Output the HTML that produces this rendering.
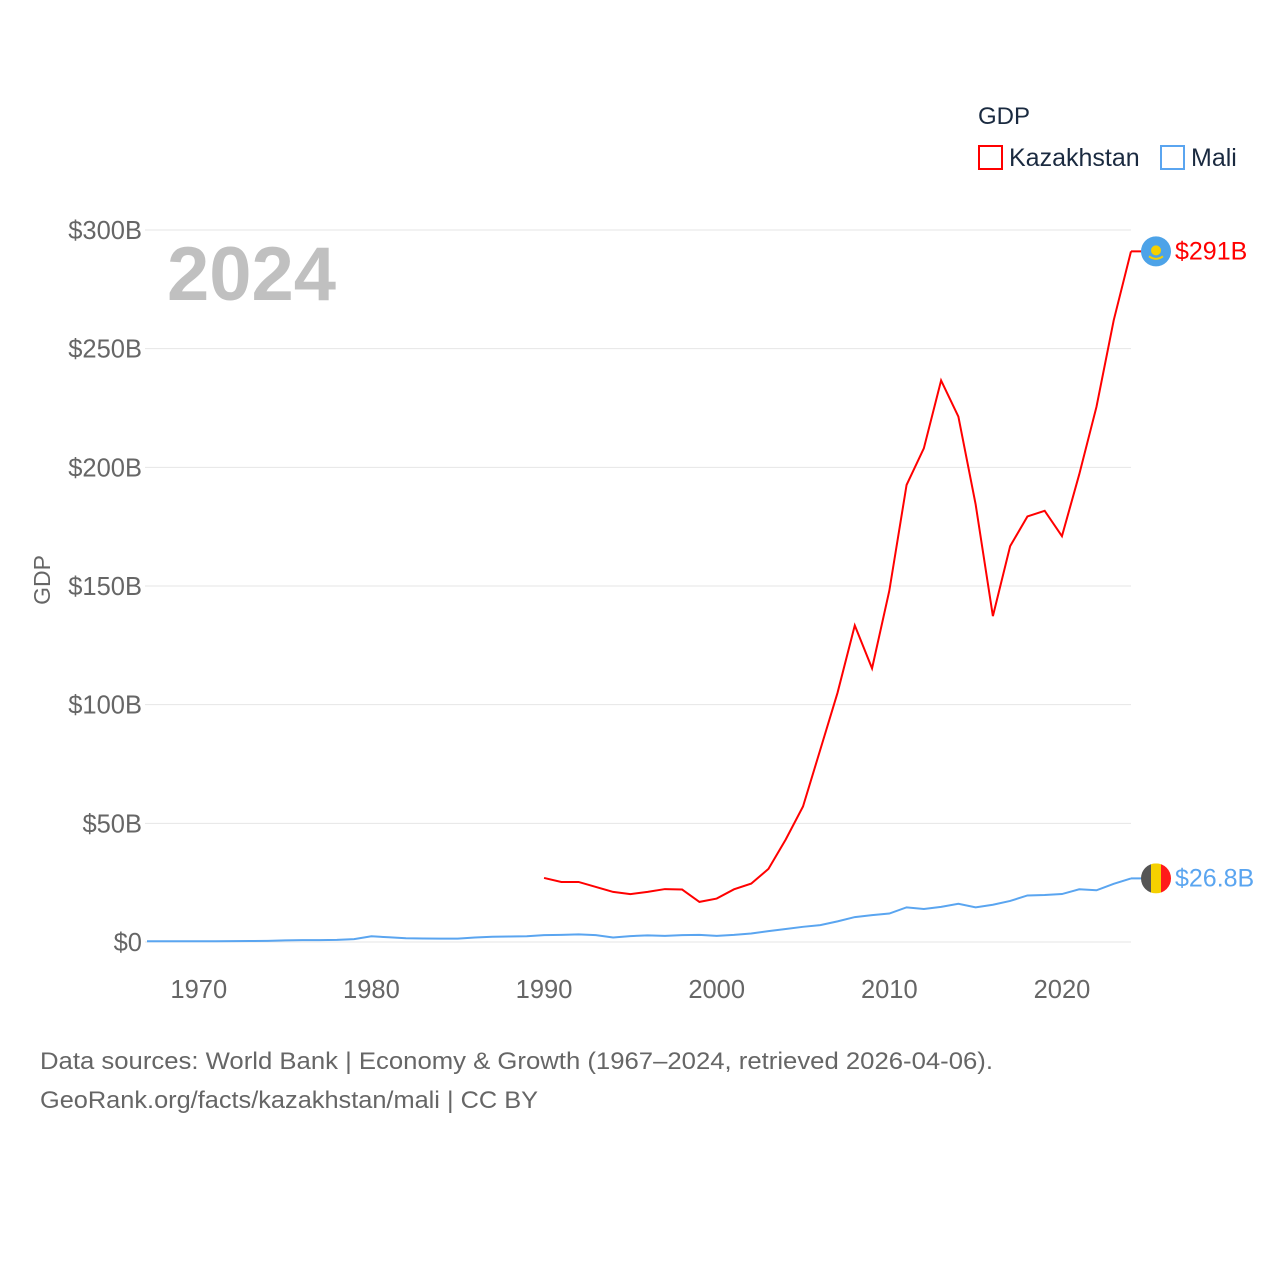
<!DOCTYPE html>
<html><head><meta charset="utf-8"><style>
body{margin:0;background:#fff;font-family:"Liberation Sans",sans-serif;}
svg text{font-family:"Liberation Sans",sans-serif;}
</style></head><body>
<svg id="chart" width="1280" height="1280" xmlns="http://www.w3.org/2000/svg">
<rect width="1280" height="1280" fill="#fff"/>
<g id="grid"></g><g id="yticks"></g><g id="xticks"></g>
<text x="167" y="300" font-size="76" font-weight="bold" fill="#c0c0c0">2024</text>
<text transform="translate(50,580) rotate(-90)" text-anchor="middle" font-size="23" fill="#666">GDP</text>
<g id="series"></g>
<g>
<text x="978" y="124" font-size="24" fill="#1a2a40">GDP</text>
<rect x="979" y="146" width="23" height="23" fill="none" stroke="#ff0000" stroke-width="2"/>
<text x="1009" y="166" font-size="25" fill="#1a2a40">Kazakhstan</text>
<rect x="1161" y="146" width="23" height="23" fill="none" stroke="#5aa5f0" stroke-width="2"/>
<text x="1191" y="166" font-size="25" fill="#1a2a40">Mali</text>
</g>
<text x="40" y="1069" font-size="24" fill="#666" textLength="953" lengthAdjust="spacingAndGlyphs">Data sources: World Bank | Economy &amp; Growth (1967–2024, retrieved 2026-04-06).</text>
<text x="40" y="1108" font-size="24" fill="#666" textLength="498" lengthAdjust="spacingAndGlyphs">GeoRank.org/facts/kazakhstan/mali | CC BY</text>
</svg>
<script>
const yTicks=[0,50,100,150,200,250,300];
const yTickLabels=["$0","$50B","$100B","$150B","$200B","$250B","$300B"];
const xTicks=[1970,1980,1990,2000,2010,2020];
const kazYears=[1990,1991,1992,1993,1994,1995,1996,1997,1998,1999,2000,2001,2002,2003,2004,2005,2006,2007,2008,2009,2010,2011,2012,2013,2014,2015,2016,2017,2018,2019,2020,2021,2022,2023,2024];
const kazValues=[27,25.3,25.3,23.2,21.1,20.2,21.1,22.3,22.1,16.9,18.3,22.2,24.6,30.8,43.2,57.1,81,105,133.4,115.3,148,192.6,208,236.6,221.4,184.4,137.3,166.8,179.3,181.7,171,197,225.5,262,291];
const maliYears=[];for(let y=1967;y<=2024;y++)maliYears.push(y);
const maliValues=[0.3,0.3,0.3,0.3,0.3,0.35,0.4,0.5,0.7,0.8,0.8,0.9,1.2,2.4,2.0,1.6,1.5,1.4,1.4,1.9,2.2,2.3,2.4,2.9,3.0,3.2,2.9,1.9,2.5,2.8,2.6,2.9,3.0,2.6,3.0,3.6,4.6,5.5,6.4,7.1,8.7,10.5,11.3,12.0,14.6,13.9,14.8,16.1,14.6,15.7,17.3,19.6,19.8,20.2,22.2,21.8,24.5,26.8];
const NS="http://www.w3.org/2000/svg";
const X=y=>147+(y-1967)*(1131-147)/(2024-1967);
const Y=v=>942-v*(942-230)/300;
function mk(t,a,p){const e=document.createElementNS(NS,t);for(const k in a)e.setAttribute(k,a[k]);p.appendChild(e);return e;}
const grid=document.getElementById('grid'),yt=document.getElementById('yticks'),xt=document.getElementById('xticks'),ser=document.getElementById('series');
yTicks.forEach((v,i)=>{
 const l=mk('line',{x1:145,x2:1131,y1:Y(v),y2:Y(v),stroke:'#e6e6e6','stroke-width':1},grid);
 
 
 const t=mk('text',{x:142,y:Y(v)+9,'text-anchor':'end','font-size':25.5,fill:'#666'},yt);
 t.textContent=yTickLabels[i];
 
 
});
xTicks.forEach(v=>{
 const t=mk('text',{x:X(v),y:998,'text-anchor':'middle','font-size':25.5,fill:'#666'},xt);
 t.textContent=v;
 
 
});
function line(xs,vs,c,name){
 const p=mk('polyline',{points:xs.map((y,i)=>X(y)+','+Y(vs[i])).join(' '),fill:'none',stroke:c,'stroke-width':2},ser);
 
 
}
line(maliYears,maliValues,'#5aa5f0','mali-line');
line(kazYears,kazValues,'#ff0000','kazakhstan-line');
const kv=kazValues[kazValues.length-1],mv=maliValues[maliValues.length-1];
const kx=X(2024)+25,ky=Y(kv);
mk('line',{x1:X(2024),x2:kx-14,y1:ky,y2:ky,stroke:'#ff0000','stroke-width':2},ser);
mk('line',{x1:X(2024),x2:kx-14,y1:Y(mv),y2:Y(mv),stroke:'#5aa5f0','stroke-width':2},ser);
const kf=mk('g',{},ser);


mk('circle',{cx:kx,cy:ky,r:15,fill:'#4da3e8'},kf);
mk('circle',{cx:kx,cy:ky-1,r:5,fill:'#f5d000'},kf);
mk('path',{d:`M${kx-7} ${ky+5} Q${kx} ${ky+10} ${kx+7} ${ky+5}`,stroke:'#f5d000','stroke-width':2,fill:'none'},kf);
const kl=mk('text',{x:kx+19,y:ky+8,'font-size':25,fill:'#ff0000'},ser);
kl.textContent='$'+Math.round(kv)+'B';


const my=Y(mv);
const mf=mk('g',{},ser);


const cp=mk('clipPath',{id:'mc'},mf);mk('circle',{cx:kx,cy:my,r:15},cp);
mk('rect',{x:kx-15,y:my-15,width:10,height:30,fill:'#555','clip-path':'url(#mc)'},mf);
mk('rect',{x:kx-5,y:my-15,width:10,height:30,fill:'#f5d000','clip-path':'url(#mc)'},mf);
mk('rect',{x:kx+5,y:my-15,width:10,height:30,fill:'#ff1a1a','clip-path':'url(#mc)'},mf);
const ml=mk('text',{x:kx+19,y:my+8,'font-size':25,fill:'#5aa5f0'},ser);
ml.textContent='$'+mv.toFixed(1)+'B';


</script>
</body></html>
